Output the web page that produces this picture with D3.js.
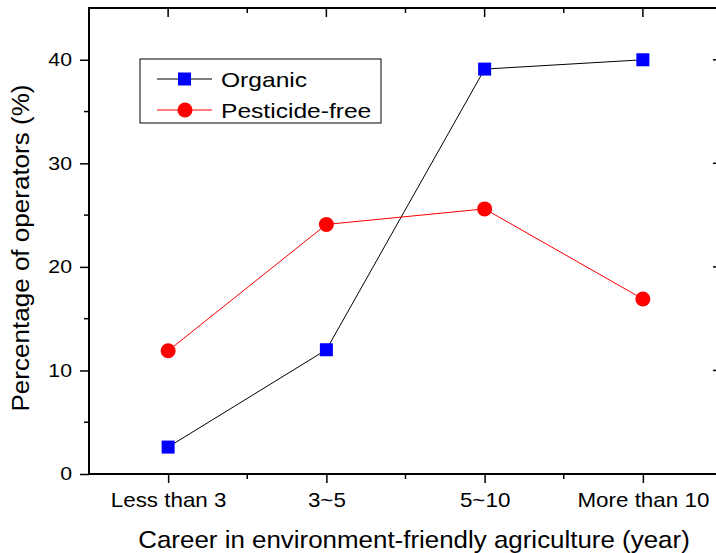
<!DOCTYPE html>
<html>
<head>
<meta charset="utf-8">
<script src="https://cdn.jsdelivr.net/npm/d3@7"></script>
<style>
    body { margin: 0; background: #fff; }
    svg text { font-family: "Liberation Sans", Arial, sans-serif; fill: #000; }
</style>
</head>
<body>
<div id="chart"></div>
<script>
;(function () {

    var categories = ['Less than 3', '3~5', '5~10', 'More than 10'];
    var organic = [2.6, 12.0, 39.1, 40.0];
    var pesticideFree = [11.9, 24.1, 25.6, 16.9];
    var yTicks = [0, 10, 20, 30, 40];
    var yMinorTicks = [5, 15, 25, 35];

    var width = 716
        , height = 553
        , left = 89
        , top = 8
        , bottom = 474;

    var svg = d3.select('#chart').append('svg')
        .attr('width', width)
        .attr('height', height);

    // categories sit at 1..4, axis runs 0.5..4.5 (right edge goes past the window)
    var x = d3.scaleLinear().domain([0.5, 4.5]).range([left, 722]);
    var y = d3.scaleLinear().domain([0, 45]).range([bottom, top]);

    // the original text is a bit wider than Liberation Sans, so stretch it a little
    function stretch(sel, sx) {
        sel.each(function () {
            var t = d3.select(this);
            var tx = +t.attr('x') || 0;
            t.attr('x', tx / sx).attr('transform', 'scale(' + sx + ',1)');
        });
    }

    // frame
    svg.append('rect')
        .attr('x', left).attr('y', y(45))
        .attr('width', x(4.5) - left).attr('height', bottom - y(45))
        .attr('fill', 'none').attr('stroke', '#000').attr('stroke-width', 2);

    // left axis, ticks outside
    var yAxis = svg.append('g').attr('transform', 'translate(' + left + ',0)')
        .call(d3.axisLeft(y).tickValues(yTicks).tickSize(9).tickPadding(8).tickFormat(d3.format('d')));
    yAxis.select('.domain').remove();
    yAxis.selectAll('line').attr('stroke-width', 1.5);
    yAxis.selectAll('text').style('font-size', '18.5px').call(stretch, 1.15);
    svg.append('g').attr('transform', 'translate(' + left + ',0)')
        .selectAll('line').data(yMinorTicks).enter().append('line')
        .attr('x1', -5).attr('x2', 0)
        .attr('y1', function (d) { return y(d); }).attr('y2', function (d) { return y(d); })
        .attr('stroke', '#000').attr('stroke-width', 1.5);

    // right axis, ticks inside
    svg.append('g').selectAll('line').data(yTicks.slice(1)).enter().append('line')
        .attr('x1', x(4.5) - 9).attr('x2', x(4.5))
        .attr('y1', function (d) { return y(d); }).attr('y2', function (d) { return y(d); })
        .attr('stroke', '#000').attr('stroke-width', 1.5);

    // bottom axis, ticks outside
    var xAxis = svg.append('g').attr('transform', 'translate(0,' + bottom + ')')
        .call(d3.axisBottom(x).tickValues([1, 2, 3, 4]).tickSize(9).tickPadding(10)
            .tickFormat(function (d) { return categories[d - 1]; }));
    xAxis.select('.domain').remove();
    xAxis.selectAll('line').attr('stroke-width', 1.5);
    xAxis.selectAll('text').style('font-size', '20px').call(stretch, 1.12);
    svg.append('g').selectAll('line').data([1.5, 2.5, 3.5]).enter().append('line')
        .attr('x1', function (d) { return x(d); }).attr('x2', function (d) { return x(d); })
        .attr('y1', bottom).attr('y2', bottom + 5)
        .attr('stroke', '#000').attr('stroke-width', 1.5);

    // top axis, ticks inside
    svg.append('g').selectAll('line').data([1, 1.5, 2, 2.5, 3, 3.5, 4]).enter().append('line')
        .attr('x1', function (d) { return x(d); }).attr('x2', function (d) { return x(d); })
        .attr('y1', y(45)).attr('y2', function (d) { return y(45) + (d % 1 === 0 ? 9 : 5); })
        .attr('stroke', '#000').attr('stroke-width', 1.5);

    // axis titles
    svg.append('g').attr('transform', 'translate(414,548)')
        .append('text')
        .attr('text-anchor', 'middle')
        .style('font-size', '24px')
        .text('Career in environment-friendly agriculture (year)')
        .call(stretch, 1.08);
    svg.append('g').attr('transform', 'translate(29,248) rotate(-90)')
        .append('text')
        .attr('text-anchor', 'middle')
        .style('font-size', '24px')
        .text('Percentage of operators (%)')
        .call(stretch, 1.085);

    var line = d3.line()
        .x(function (d, i) { return x(i + 1); })
        .y(function (d) { return y(d); });

    // Organic
    svg.append('path').datum(organic)
        .attr('d', line).attr('fill', 'none').attr('stroke', '#000').attr('stroke-width', 1);
    svg.selectAll('.sq').data(organic).enter().append('rect')
        .attr('class', 'sq')
        .attr('x', function (d, i) { return x(i + 1) - 6.5; })
        .attr('y', function (d) { return y(d) - 6.5; })
        .attr('width', 13).attr('height', 13)
        .attr('fill', '#0000ff');

    // Pesticide-free
    svg.append('path').datum(pesticideFree)
        .attr('d', line).attr('fill', 'none').attr('stroke', '#ff0000').attr('stroke-width', 1);
    svg.selectAll('.dot').data(pesticideFree).enter().append('circle')
        .attr('class', 'dot')
        .attr('cx', function (d, i) { return x(i + 1); })
        .attr('cy', function (d) { return y(d); })
        .attr('r', 7.5)
        .attr('fill', '#ff0000');

    // legend
    var legend = svg.append('g');
    legend.append('rect')
        .attr('x', 140).attr('y', 59).attr('width', 241).attr('height', 64)
        .attr('fill', '#fff').attr('stroke', '#000').attr('stroke-width', 1);
    var rows = [
        { name: 'Organic', color: '#0000ff', stroke: '#000', shape: 'square', cy: 79 },
        { name: 'Pesticide-free', color: '#ff0000', stroke: '#ff0000', shape: 'circle', cy: 110 }
    ];
    rows.forEach(function (r) {
        legend.append('line')
            .attr('x1', 157).attr('x2', 212).attr('y1', r.cy).attr('y2', r.cy)
            .attr('stroke', r.stroke).attr('stroke-width', 1);
        if (r.shape === 'square') {
            legend.append('rect')
                .attr('x', 178).attr('y', r.cy - 6.5).attr('width', 13).attr('height', 13)
                .attr('fill', r.color);
        } else {
            legend.append('circle')
                .attr('cx', 185).attr('cy', r.cy).attr('r', 7.5)
                .attr('fill', r.color);
        }
        legend.append('g').attr('transform', 'translate(221,' + (r.cy + 7.5) + ')')
            .append('text')
            .style('font-size', '20.5px')
            .text(r.name)
            .call(stretch, 1.2);
    });

}());
</script>
</body>
</html>
